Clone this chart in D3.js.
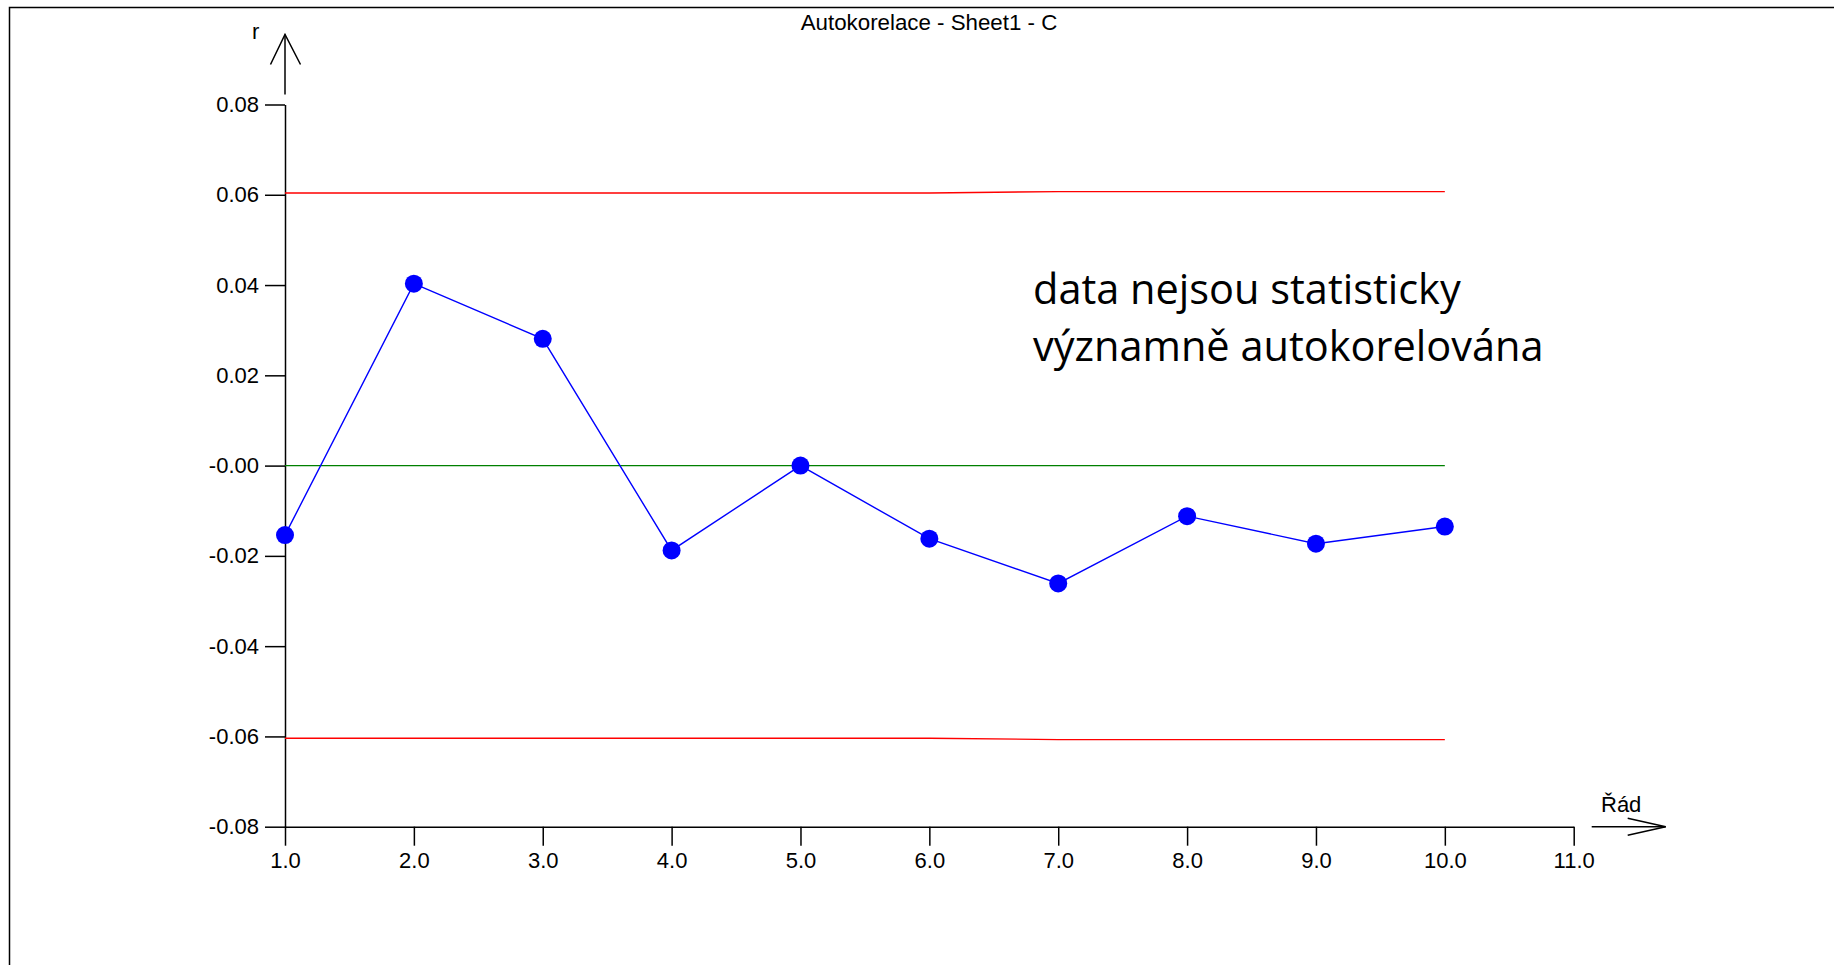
<!DOCTYPE html>
<html>
<head>
<meta charset="utf-8">
<script src="https://cdn.jsdelivr.net/npm/d3@7"></script>
<style>
  html, body { margin: 0; padding: 0; background: #fff; }
  svg { display: block; }
  text { font-family: "Liberation Sans", Arial, sans-serif; fill: #000; }
</style>
</head>
<body>
<svg id="chart" width="1834" height="965"></svg>
<script>
// Autocorrelation coefficients by lag
const lags = [1, 2, 3, 4, 5, 6, 7, 8, 9, 10];
const autocorr = [-0.0154, 0.0403, 0.0281, -0.0188, 0.0000, -0.0162, -0.0261, -0.0112, -0.0173, -0.0135];
// Significance limits and the zero reference line
const upperLimit = [0.0604, 0.0604, 0.0604, 0.0604, 0.0604, 0.0604, 0.0607, 0.0607, 0.0607, 0.0607];
const lowerLimit = [-0.0604, -0.0604, -0.0604, -0.0604, -0.0604, -0.0604, -0.0607, -0.0607, -0.0607, -0.0607];
const zeroLine = [0, 0, 0, 0, 0, 0, 0, 0, 0, 0];

// Axis ticks
const xTicks = [1, 2, 3, 4, 5, 6, 7, 8, 9, 10, 11];
const xTickLabels = ["1.0", "2.0", "3.0", "4.0", "5.0", "6.0", "7.0", "8.0", "9.0", "10.0", "11.0"];
const yTicks = [-0.08, -0.06, -0.04, -0.02, 0, 0.02, 0.04, 0.06, 0.08];
const yTickLabels = ["-0.08", "-0.06", "-0.04", "-0.02", "-0.00", "0.02", "0.04", "0.06", "0.08"];

const title = "Autokorelace - Sheet1 - C";
const xTitle = "Řád";
const yTitle = "r";
const note = ["data nejsou statisticky", "významně autokorelována"];

const svg = d3.select("#chart");

const x = d3.scaleLinear().domain([1, 11]).range([285, 1573.7]);
const y = d3.scaleLinear().domain([-0.08, 0.08]).range([826.7, 104.5]);

// Frame
svg.append("rect")
  .attr("x", 9.5).attr("y", 7.5)
  .attr("width", 1900).attr("height", 1000)
  .attr("fill", "none").attr("stroke", "#000").attr("stroke-width", 1.5);

// Title
svg.append("text")
  .attr("x", 929).attr("y", 30)
  .attr("text-anchor", "middle")
  .style("font-size", "22.3px")
  .text(title);

// Axes
const fmtX = d => xTickLabels[xTicks.indexOf(d)];
const fmtY = d => yTickLabels[yTicks.indexOf(d)];

const gx = svg.append("g")
  .attr("transform", `translate(0,${y(-0.08)})`)
  .call(d3.axisBottom(x).tickValues(xTicks).tickFormat(fmtX)
    .tickSize(19).tickSizeOuter(0).tickPadding(7));

const gy = svg.append("g")
  .attr("transform", `translate(${x(1)},0)`)
  .call(d3.axisLeft(y).tickValues(yTicks).tickFormat(fmtY)
    .tickSize(20).tickSizeOuter(0).tickPadding(6));

[gx, gy].forEach(g => {
  g.selectAll("path, line").attr("stroke", "#000").attr("stroke-width", 1.5);
  g.selectAll("text")
    .style("font-family", "'Liberation Sans', Arial, sans-serif")
    .style("font-size", "22px")
    .attr("fill", "#000");
});

// Axis arrows
const arrows = svg.append("g").attr("stroke", "#000").attr("stroke-width", 1.5).attr("fill", "none");
const ax = x(1), ayTop = y(0.08);
arrows.append("path").attr("d", `M${ax},${ayTop - 10}V${ayTop - 70}`);
arrows.append("path").attr("d", `M${ax - 14.5},${ayTop - 40}L${ax},${ayTop - 70}L${ax + 15.5},${ayTop - 40}`);

const bx = x(11), by = y(-0.08);
arrows.append("path").attr("d", `M${bx + 18},${by}H${bx + 92}`);
arrows.append("path").attr("d", `M${bx + 54},${by - 8.5}L${bx + 92},${by}L${bx + 54},${by + 8.5}`);

svg.append("text").attr("x", 252).attr("y", 39)
  .style("font-size", "22px").text(yTitle);
svg.append("text").attr("x", 1601).attr("y", 812)
  .style("font-size", "22px").text(xTitle);

// Reference lines
const line = d3.line().x((d, i) => x(lags[i])).y(d => y(d));

svg.append("path").datum(upperLimit)
  .attr("d", line).attr("fill", "none").attr("stroke", "#ff0000").attr("stroke-width", 1.4);
svg.append("path").datum(lowerLimit)
  .attr("d", line).attr("fill", "none").attr("stroke", "#ff0000").attr("stroke-width", 1.4);
svg.append("path").datum(zeroLine)
  .attr("d", line).attr("fill", "none").attr("stroke", "#008000").attr("stroke-width", 1.4);

// Autocorrelation series
svg.append("path").datum(autocorr)
  .attr("d", line).attr("fill", "none").attr("stroke", "#0000ff").attr("stroke-width", 1.4);

svg.append("g").selectAll("circle")
  .data(autocorr)
  .join("circle")
  .attr("cx", (d, i) => x(lags[i]))
  .attr("cy", d => y(d))
  .attr("r", 9)
  .attr("fill", "#0000ff");

// Annotation
const noteText = svg.append("text")
  .attr("x", 1033).attr("y", 304)
  .style("font-family", "'Open Sans', 'Noto Sans', sans-serif")
  .style("font-size", "41.5px");
noteText.selectAll("tspan")
  .data(note)
  .join("tspan")
  .attr("x", 1033)
  .attr("dy", (d, i) => i === 0 ? 0 : 57)
  .text(d => d);
</script>
</body>
</html>
